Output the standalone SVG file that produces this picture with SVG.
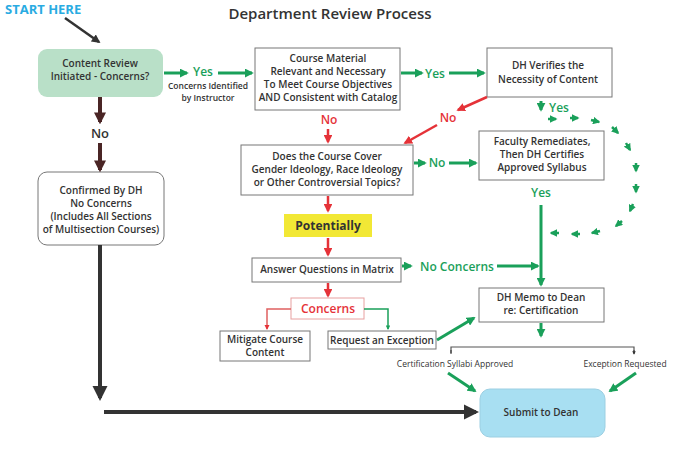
<svg xmlns="http://www.w3.org/2000/svg" width="680" height="451" viewBox="0 0 680 451">
<defs>
<style>
text{font-family:"Open Sans","Liberation Sans",sans-serif;font-weight:600;text-anchor:middle;fill:#333}
.b{fill:#fff;stroke:#777;stroke-width:1}
.t{font-size:10px}
.g{stroke:#1aa05a;stroke-width:3;fill:none}
.r{stroke:#e53238;stroke-width:2.5;fill:none}
.k{stroke:#4a2525;stroke-width:4;fill:none}
.gl{fill:#1aa05a;font-size:12px}
.rl{fill:#e53238;font-size:12px}
</style>
<marker id="ag" viewBox="0 0 10 10" refX="8" refY="5" markerWidth="3" markerHeight="3" orient="auto"><path d="M0,0L10,5L0,10z" fill="#1aa05a"/></marker>
<marker id="ar" viewBox="0 0 10 10" refX="8" refY="5" markerWidth="3.5" markerHeight="3.5" orient="auto"><path d="M0,0L10,5L0,10z" fill="#e53238"/></marker>
<marker id="ak" viewBox="0 0 10 10" refX="8" refY="5" markerWidth="3" markerHeight="3" orient="auto"><path d="M0,0L10,5L0,10z" fill="#4a2525"/></marker>
<marker id="ab" viewBox="0 0 10 10" refX="8" refY="5" markerWidth="3.5" markerHeight="3.5" orient="auto"><path d="M0,0L10,5L0,10z" fill="#333"/></marker>
<marker id="as" viewBox="0 0 10 10" refX="8" refY="5" markerWidth="3.8" markerHeight="3.8" orient="auto"><path d="M0,0L10,5L0,10z" fill="#333"/></marker>
</defs>
<rect width="680" height="451" fill="#fff"/>
<text x="5" y="14" style="text-anchor:start;fill:#29abe2;font-size:13px;font-weight:700">START HERE</text>
<text x="330" y="19" style="font-size:15px">Department Review Process</text>

<g id="n-content"><rect x="38" y="49" width="125" height="48" rx="9" fill="#b9e0c8"/><text class="t" x="100" y="67">Content Review</text><text class="t" x="100" y="80">Initiated - Concerns?</text></g>
<g id="n-confirmed"><rect class="b" x="38" y="172" width="126" height="73" rx="9"/><text class="t" x="101" y="194">Confirmed By DH</text><text class="t" x="101" y="207">No Concerns</text><text class="t" x="101" y="220">(Includes All Sections</text><text class="t" x="101" y="233">of Multisection Courses)</text></g>
<g id="n-course"><rect class="b" x="255" y="48" width="145" height="62"/><text class="t" x="328" y="62">Course Material</text><text class="t" x="328" y="75">Relevant and Necessary</text><text class="t" x="328" y="88">To Meet Course Objectives</text><text class="t" x="328" y="101">AND Consistent with Catalog</text></g>
<g id="n-dhverify"><rect class="b" x="487" y="48" width="125" height="49"/><text class="t" x="548" y="69">DH Verifies the</text><text class="t" x="548" y="83">Necessity of Content</text></g>
<g id="n-does"><rect class="b" x="241" y="145" width="172" height="50"/><text class="t" x="327" y="160">Does the Course Cover</text><text class="t" x="327" y="173">Gender Ideology, Race Ideology</text><text class="t" x="327" y="186">or Other Controversial Topics?</text></g>
<g id="n-faculty"><rect class="b" x="479" y="131" width="125" height="49"/><text class="t" x="542" y="145">Faculty Remediates,</text><text class="t" x="542" y="158">Then DH Certifies</text><text class="t" x="542" y="171">Approved Syllabus</text></g>
<g id="n-potentially"><rect x="284" y="214" width="88" height="23" fill="#f2e835"/><text x="328" y="230" style="font-size:12px;font-weight:700">Potentially</text></g>
<g id="n-answer"><rect class="b" x="252" y="258" width="149" height="24"/><text class="t" x="327" y="273">Answer Questions in Matrix</text></g>
<g id="n-concerns"><rect x="291" y="298" width="73" height="21" fill="#fff" stroke="#e8a0a0"/><text x="328" y="313" style="font-size:12px;fill:#e53238">Concerns</text></g>
<g id="n-mitigate"><rect class="b" x="220" y="331" width="90" height="30" stroke="#444"/><text class="t" x="265" y="343">Mitigate Course</text><text class="t" x="265" y="356">Content</text></g>
<g id="n-request"><rect class="b" x="328" y="331" width="108" height="18" stroke="#444"/><text class="t" x="382" y="343.5">Request an Exception</text></g>
<g id="n-memo"><rect class="b" x="479" y="288" width="125" height="34"/><text class="t" x="541" y="301">DH Memo to Dean</text><text class="t" x="541" y="314">re: Certification</text></g>
<g id="n-submit"><rect x="480" y="389" width="125" height="48" rx="10" fill="#a8dff2" stroke="#9ccfe2"/><text class="t" x="541" y="416">Submit to Dean</text></g>

<g id="connectors">
<path d="M65,18L99,42" stroke="#333" stroke-width="2.5" marker-end="url(#ab)"/>
<path class="k" d="M100,97V122" marker-end="url(#ak)"/>
<text x="100" y="138" style="font-size:13px">No</text>
<path class="k" d="M100,143V170" marker-end="url(#ak)"/>
<path d="M100,245V398" stroke="#333" stroke-width="4" marker-end="url(#as)"/>
<path d="M104,412H476" stroke="#333" stroke-width="4" marker-end="url(#as)"/>

<path class="g" d="M164,73H187" marker-end="url(#ag)"/>
<text class="gl" x="203" y="76">Yes</text>
<path class="g" d="M218,73H252" marker-end="url(#ag)"/>
<text x="208" y="89" style="font-size:8.5px">Concerns Identified</text>
<text x="208" y="101" style="font-size:8.5px">by Instructor</text>

<path class="g" d="M401,73H422" marker-end="url(#ag)"/>
<text class="gl" x="435" y="78">Yes</text>
<path class="g" d="M449,73H484" marker-end="url(#ag)"/>

<text class="rl" x="329" y="124">No</text>
<path class="r" d="M328,129V142" marker-end="url(#ar)"/>
<path class="r" d="M487,97L458,110" marker-end="url(#ar)"/>
<text class="rl" x="448" y="122">No</text>
<path class="r" d="M437,125L405,143" marker-end="url(#ar)"/>

<path class="g" d="M414,163H425" marker-end="url(#ag)"/>
<text class="gl" x="437" y="167">No</text>
<path class="g" d="M449,163H476" marker-end="url(#ag)"/>

<path class="r" d="M328,196V211" marker-end="url(#ar)"/>
<path class="r" d="M328,238V255" marker-end="url(#ar)"/>
<path class="r" d="M328,283V296" marker-end="url(#ar)"/>
<path d="M291,309H267V329" stroke="#e06060" stroke-width="1.5" fill="none" marker-end="url(#ar)"/>
<path d="M364,309H388V329" stroke="#1aa05a" stroke-width="1.5" fill="none" marker-end="url(#ag)"/>

<path class="g" d="M402,266H411" marker-end="url(#ag)"/>
<text class="gl" x="457" y="271">No Concerns</text>
<path class="g" d="M497,266H538" marker-end="url(#ag)"/>
<text class="gl" x="541" y="197">Yes</text>
<path class="g" d="M541,205V285" marker-end="url(#ag)"/>

<path class="g" d="M541,101V110" stroke-width="2" marker-end="url(#ag)"/>
<text class="gl" x="559" y="112">Yes</text>
<g stroke="#1aa05a" stroke-width="2.5" fill="none">
<path d="M548,119H556" marker-end="url(#ag)"/>
<path d="M570,118H578" marker-end="url(#ag)"/>
<path d="M591,120L599,122" marker-end="url(#ag)"/>
<path d="M612,127L618,133" marker-end="url(#ag)"/>
<path d="M626,143L630,150" marker-end="url(#ag)"/>
<path d="M636,163L636,171" marker-end="url(#ag)"/>
<path d="M636,184L636,192" marker-end="url(#ag)"/>
<path d="M633,204L630,211" marker-end="url(#ag)"/>
<path d="M622,221L616,226" marker-end="url(#ag)"/>
<path d="M600,231L592,233" marker-end="url(#ag)"/>
<path d="M580,234L572,234" marker-end="url(#ag)"/>
<path d="M559,233L551,233" marker-end="url(#ag)"/>
</g>

<path class="g" d="M437,340L474,318" marker-end="url(#ag)"/>
<path class="g" d="M541,323V336" marker-end="url(#ag)"/>
<path d="M451,353V347H634V353" stroke="#555" stroke-width="1.2" fill="none"/>
<path d="M451,350V354M634,350V354" stroke="#333" stroke-width="1" marker-end="url(#ab)"/>
<text x="455" y="367" style="font-size:8.5px;font-weight:400">Certification Syllabi Approved</text>
<text x="625" y="367" style="font-size:8.5px;font-weight:400">Exception Requested</text>
<path class="g" d="M448,373L475,391" marker-end="url(#ag)"/>
<path class="g" d="M636,373L610,391" marker-end="url(#ag)"/>
</g>
</svg>
